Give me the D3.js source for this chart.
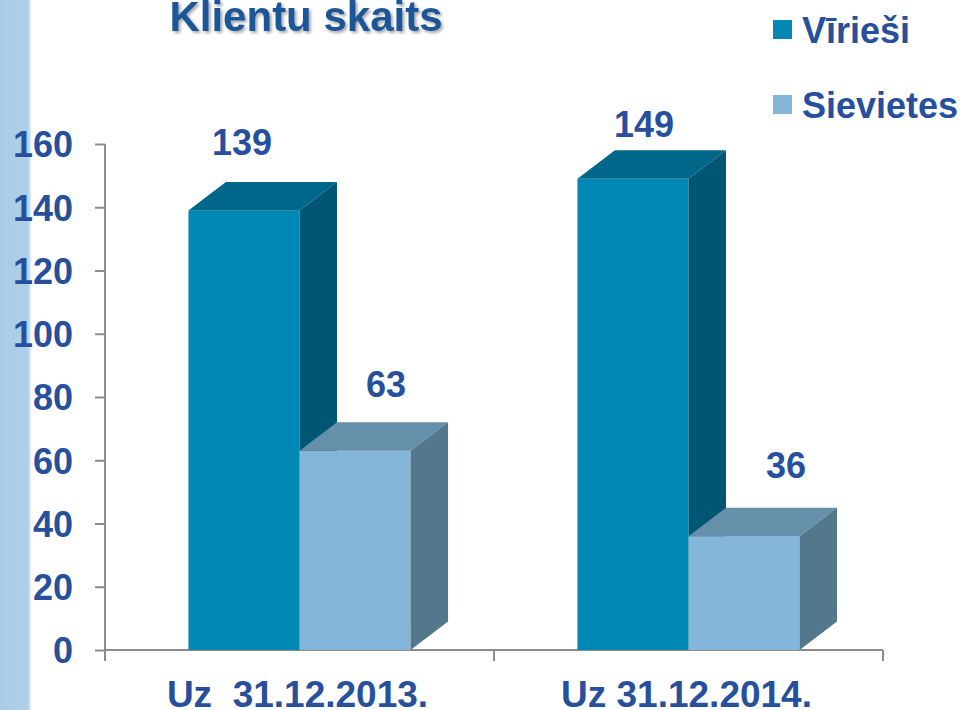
<!DOCTYPE html>
<html>
<head>
<meta charset="utf-8">
<script src="https://cdn.jsdelivr.net/npm/d3@7"></script>
<style>
  body { margin: 0; background: #fff; }
  text { font-family: "Liberation Sans", Arial, sans-serif; font-weight: bold; }
</style>
</head>
<body>
<div id="chart"></div>
<script>
// data
var categories = ["Uz  31.12.2013.", "Uz 31.12.2014."];
var seriesNames = ["Vīrieši", "Sievietes"];
var viriesi = [139, 149];
var sievietes = [63, 36];
var yTicks = [0, 20, 40, 60, 80, 100, 120, 140, 160];

// label nudges (layout only, [dx, dy] from the front face centre/top)
var labelNudge = [[-2, -55], [31, -54], [11, -42], [42, -58]];

var W = 967, H = 710;
var textCol = "#27509c";
var cols = {
  "Vīrieši":   { front: "#0088b5", top: "#00678a", side: "#005673" },
  "Sievietes": { front: "#84b6d9", top: "#668fa9", side: "#53778b" }
};
var depthX = 37.5, depthY = 28.5;

var svg = d3.select("#chart").append("svg").attr("width", W).attr("height", H);

// left band
var defs = svg.append("defs");
var lg = defs.append("linearGradient").attr("id", "band").attr("x1", 0).attr("x2", 1);
lg.append("stop").attr("offset", "0%").attr("stop-color", "#a9cbe7");
lg.append("stop").attr("offset", "90%").attr("stop-color", "#afcfe9");
lg.append("stop").attr("offset", "100%").attr("stop-color", "#e6f0f8");
svg.append("rect").attr("x", 0).attr("y", 0).attr("width", 31).attr("height", H).attr("fill", "url(#band)");

var sh = defs.append("filter").attr("id", "shadow").attr("x", "-10%").attr("y", "-20%").attr("width", "130%").attr("height", "160%");
sh.append("feDropShadow").attr("dx", 2).attr("dy", 2).attr("stdDeviation", 1.5)
  .attr("flood-color", "#000").attr("flood-opacity", 0.35);

// title
svg.append("text").attr("x", 306).attr("y", 31).attr("text-anchor", "middle")
  .attr("font-size", 42).attr("fill", "#1b5797").attr("filter", "url(#shadow)")
  .text("Klientu skaits");

// scales
var y = d3.scaleLinear().domain([0, 160]).range([650, 144]);
var x0 = d3.scaleBand().domain(categories).range([105, 883]);
var groupW = x0.bandwidth() * 0.571;
var x1 = d3.scaleBand().domain(seriesNames).range([0, groupW]);

// axes
var yAxis = svg.append("g").attr("transform", "translate(105,0)")
  .call(d3.axisLeft(y).tickValues(yTicks).tickSize(10).tickPadding(22));
yAxis.select(".domain").attr("stroke", "#8c8c8c").attr("stroke-width", 2)
  .attr("d", "M0," + y(160) + "V" + (y(0) + 11));
yAxis.selectAll(".tick line").attr("stroke", "#8c8c8c").attr("stroke-width", 2);
yAxis.selectAll(".tick text").attr("fill", textCol).attr("font-size", 36)
  .attr("font-family", "Liberation Sans, Arial, sans-serif").attr("font-weight", "bold")
  .attr("dy", "0.36em");

var xAxis = svg.append("g").attr("transform", "translate(0," + y(0) + ")");
xAxis.append("line").attr("x1", 105).attr("x2", 883).attr("stroke", "#8c8c8c").attr("stroke-width", 2);
var bounds = categories.map(function (c) { return x0(c); }).concat([x0.range()[1]]);
xAxis.selectAll(".xt").data(bounds).enter().append("line").attr("class", "xt")
  .attr("x1", function (d) { return d; }).attr("x2", function (d) { return d; })
  .attr("y1", 0).attr("y2", 11).attr("stroke", "#8c8c8c").attr("stroke-width", 2);
xAxis.selectAll(".xl").data(categories).enter().append("text").attr("class", "xl")
  .attr("x", function (d) { return x0(d) + x0.bandwidth() / 2 - 2; })
  .attr("y", 57).attr("text-anchor", "middle").attr("font-size", 37)
  .attr("fill", textCol).attr("xml:space", "preserve")
  .style("white-space", "pre")
  .text(function (d) { return d; });

// bars
var bars = [];
categories.forEach(function (c, i) {
  bars.push({ cat: c, s: "Vīrieši", v: viriesi[i] });
  bars.push({ cat: c, s: "Sievietes", v: sievietes[i] });
});

var bw = x1.bandwidth();
var g = svg.append("g");
bars.forEach(function (d, i) {
  var x = x0(d.cat) + (x0.bandwidth() - groupW) / 2 + x1(d.s);
  var yt = y(d.v), yb = y(0);
  var c = cols[d.s];
  var b = g.append("g");
  b.append("rect").attr("x", x).attr("y", yt).attr("width", bw).attr("height", yb - yt)
    .attr("fill", c.front);
  b.append("polygon").attr("fill", c.top)
    .attr("points", [[x, yt], [x + depthX, yt - depthY], [x + bw + depthX, yt - depthY], [x + bw, yt]].join(" "));
  b.append("polygon").attr("fill", c.side)
    .attr("points", [[x + bw, yt], [x + bw + depthX, yt - depthY], [x + bw + depthX, yb - depthY], [x + bw, yb]].join(" "));
  var n = labelNudge[i];
  svg.append("text").attr("x", x + bw / 2 + n[0]).attr("y", yt + n[1])
    .attr("text-anchor", "middle").attr("font-size", 36).attr("fill", textCol)
    .text(d.v);
});

// legend
var leg = svg.append("g");
seriesNames.forEach(function (s, i) {
  var ly = 20 + i * 75;
  leg.append("rect").attr("x", 773).attr("y", ly).attr("width", 19).attr("height", 19)
    .attr("fill", cols[s].front);
  leg.append("text").attr("x", 802).attr("y", ly + 23).attr("font-size", 36)
    .attr("fill", textCol).text(s);
});
</script>
</body>
</html>
